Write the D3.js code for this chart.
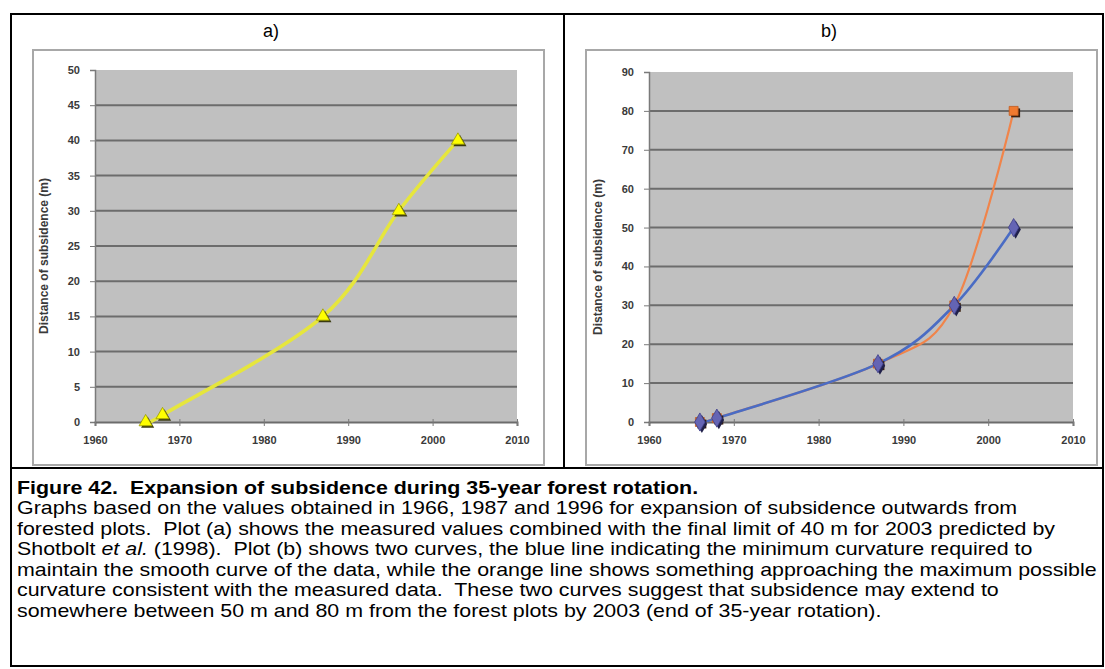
<!DOCTYPE html>
<html>
<head>
<meta charset="utf-8">
<script src="https://cdn.jsdelivr.net/npm/d3@7"></script>
<style>
  html, body { margin: 0; padding: 0; background: #ffffff; }
  svg { display: block; }
</style>
</head>
<body>
<svg id="fig" width="1105" height="669"></svg>
<script>
// ---------------- DATA ----------------
const panelTitles = ["a)", "b)"];
const yTitle = "Distance of subsidence (m)";
const xTicks = [1960, 1970, 1980, 1990, 2000, 2010];
const yTicksA = [0, 5, 10, 15, 20, 25, 30, 35, 40, 45, 50];
const yTicksB = [0, 10, 20, 30, 40, 50, 60, 70, 80, 90];

const yearsA = [1966, 1968, 1987, 1996, 2003];
const valuesA = [0, 1, 15, 30, 40];

const yearsB = [1966, 1968, 1987, 1996, 2003];
const blueB = [0, 1, 15, 30, 50];
const orangeB = [0, 1, 15, 30, 80];

const captionTitle = "Figure 42.  Expansion of subsidence during 35-year forest rotation.";
const captionLines = [
  [{t: "Graphs based on the values obtained in 1966, 1987 and 1996 for expansion of subsidence outwards from"}],
  [{t: "forested plots.  Plot (a) shows the measured values combined with the final limit of 40 m for 2003 predicted by"}],
  [{t: "Shotbolt "}, {t: "et al.", i: true}, {t: " (1998).  Plot (b) shows two curves, the blue line indicating the minimum curvature required to"}],
  [{t: "maintain the smooth curve of the data, while the orange line shows something approaching the maximum possible"}],
  [{t: "curvature consistent with the measured data.  These two curves suggest that subsidence may extend to"}],
  [{t: "somewhere between 50 m and 80 m from the forest plots by 2003 (end of 35-year rotation)."}]
];

// ---------------- DRAW ----------------
const svg = d3.select("#fig");
const FONT = "'Liberation Sans', Arial, sans-serif";

// outer frame
const frame = svg.append("g").attr("stroke", "#000").attr("stroke-width", 2).attr("fill", "none");
frame.append("rect").attr("x", 11).attr("y", 14).attr("width", 1092).attr("height", 652);
frame.append("line").attr("x1", 564).attr("x2", 564).attr("y1", 14).attr("y2", 468);
frame.append("line").attr("x1", 11).attr("x2", 1103).attr("y1", 468).attr("y2", 468);

function drawPanel(cfg) {
  const g = svg.append("g");
  // panel title
  g.append("text").attr("x", cfg.titleX).attr("y", 37)
    .attr("text-anchor", "middle").attr("font-family", FONT).attr("font-size", 18)
    .attr("fill", "#000").text(cfg.title);
  // chart area
  g.append("rect").attr("x", cfg.box[0]).attr("y", cfg.box[1])
    .attr("width", cfg.box[2] - cfg.box[0]).attr("height", cfg.box[3] - cfg.box[1])
    .attr("fill", "#fff").attr("stroke", "#a8a8a8").attr("stroke-width", 2);

  const x = d3.scaleLinear().domain([1960, 2010]).range([cfg.plot[0], cfg.plot[1]]);
  const y = d3.scaleLinear().domain([0, cfg.yMax]).range([cfg.plot[3], cfg.plot[2]]);

  // plot background
  g.append("rect").attr("x", x(1960)).attr("y", y(cfg.yMax))
    .attr("width", x(2010) - x(1960)).attr("height", y(0) - y(cfg.yMax))
    .attr("fill", "#c0c0c0");

  // gridlines
  g.append("g").selectAll("line").data(cfg.yTicks.filter(v => v > 0 && v < cfg.yMax)).join("line")
    .attr("x1", x(1960)).attr("x2", x(2010))
    .attr("y1", d => y(d)).attr("y2", d => y(d))
    .attr("stroke", "#6c6c6c").attr("stroke-width", 2);

  // y axis
  const yAxis = d3.axisLeft(y).tickValues(cfg.yTicks).tickSize(5).tickPadding(10).tickFormat(d3.format("d"));
  const ya = g.append("g").attr("transform", `translate(${x(1960)},0)`).call(yAxis);
  ya.select(".domain").attr("stroke", "#7a7a7a").attr("stroke-width", 1.5);
  ya.selectAll(".tick line").attr("stroke", "#7a7a7a");
  ya.selectAll(".tick text").attr("font-family", FONT).attr("font-size", 11)
    .attr("font-weight", "bold").attr("fill", "#3a3a3a");

  // x axis
  const xAxis = d3.axisBottom(x).tickValues(xTicks).tickSize(4).tickPadding(10).tickFormat(d3.format("d"));
  const xa = g.append("g").attr("transform", `translate(0,${y(0)})`).call(xAxis);
  xa.select(".domain").attr("stroke", "#6c6c6c").attr("stroke-width", 2);
  xa.selectAll(".tick line").attr("stroke", "#7a7a7a").attr("y1", -3);
  xa.selectAll(".tick text").attr("font-family", FONT).attr("font-size", 11)
    .attr("font-weight", "bold").attr("fill", "#3a3a3a");

  // y title
  g.append("text")
    .attr("transform", `translate(${x(1960) - 47},${(y(0) + y(cfg.yMax)) / 2 + 10}) rotate(-90)`)
    .attr("text-anchor", "middle").attr("font-family", FONT).attr("font-size", 12)
    .attr("font-weight", "bold").attr("fill", "#3a3a3a").text(yTitle);

  const line = d3.line().curve(d3.curveCatmullRom.alpha(0)).x(d => x(d[0])).y(d => y(d[1]));

  cfg.series.forEach(s => {
    const pts = s.years.map((yr, i) => [yr, s.values[i]]);
    g.append("path").attr("d", line(pts)).attr("fill", "none")
      .attr("stroke", s.color).attr("stroke-width", s.width).attr("stroke-linejoin", "round");
  });
  cfg.series.forEach(s => {
    const pts = s.years.map((yr, i) => [yr, s.values[i]]);
    const sym = d3.symbol().type(s.symbol).size(s.size);
    const mg = g.append("g");
    mg.selectAll("path.sh").data(pts).join("path").attr("class", "sh")
      .attr("d", sym).attr("transform", d => `translate(${x(d[0]) + 2},${y(d[1]) + 2})`)
      .attr("fill", s.shadow);
    mg.selectAll("path.mk").data(pts).join("path").attr("class", "mk")
      .attr("d", sym).attr("transform", d => `translate(${x(d[0])},${y(d[1])})`)
      .attr("fill", s.fill).attr("stroke", s.stroke).attr("stroke-width", 0.8);
  });
}

drawPanel({
  title: panelTitles[0], titleX: 271,
  box: [33, 50, 544, 465],
  plot: [95, 517, 70, 422],
  yMax: 50, yTicks: yTicksA,
  series: [
    {years: yearsA, values: valuesA, color: "#e6e63c", width: 3.5,
     symbol: d3.symbolTriangle, size: 75, fill: "#ffff00", stroke: "#9a9a00", shadow: "#3a3a10"}
  ]
});

drawPanel({
  title: panelTitles[1], titleX: 829,
  box: [586, 50, 1097, 465],
  plot: [649, 1073, 72, 422],
  yMax: 90, yTicks: yTicksB,
  series: [
    {years: yearsB, values: orangeB, color: "#f0844a", width: 2.2,
     symbol: d3.symbolSquare, size: 80, fill: "#f07a30", stroke: "#c05a20", shadow: "#3a2010"},
    {years: yearsB, values: blueB, color: "#4a6cc4", width: 2.6,
     symbol: d3.symbolDiamond, size: 95, fill: "#6464b4", stroke: "#40408a", shadow: "#20204a"}
  ]
});

// ---------------- CAPTION ----------------
const cap = svg.append("g").attr("font-family", FONT).attr("fill", "#000");
const FS = 18;
// horizontal stretch so the longest line spans the same width as in the figure
const probe = cap.append("text").attr("font-size", FS).text(captionLines[3][0].t);
const wLong = probe.node().getComputedTextLength();
probe.remove();
const sx = 1080 / wLong;
const x0 = 17, base0 = 494, lh = 20.5;

const capInner = cap.append("g").attr("transform", `translate(${x0},0) scale(${sx},1)`);
capInner.append("text").attr("x", 0).attr("y", base0).attr("font-size", FS)
  .attr("font-weight", "bold").style("white-space", "pre").text(captionTitle);
captionLines.forEach((segs, i) => {
  const t = capInner.append("text").attr("x", 0).attr("y", base0 + lh * (i + 1)).attr("font-size", FS)
    .style("white-space", "pre");
  segs.forEach(s => t.append("tspan").attr("font-style", s.i ? "italic" : null).text(s.t));
});
</script>
</body>
</html>
